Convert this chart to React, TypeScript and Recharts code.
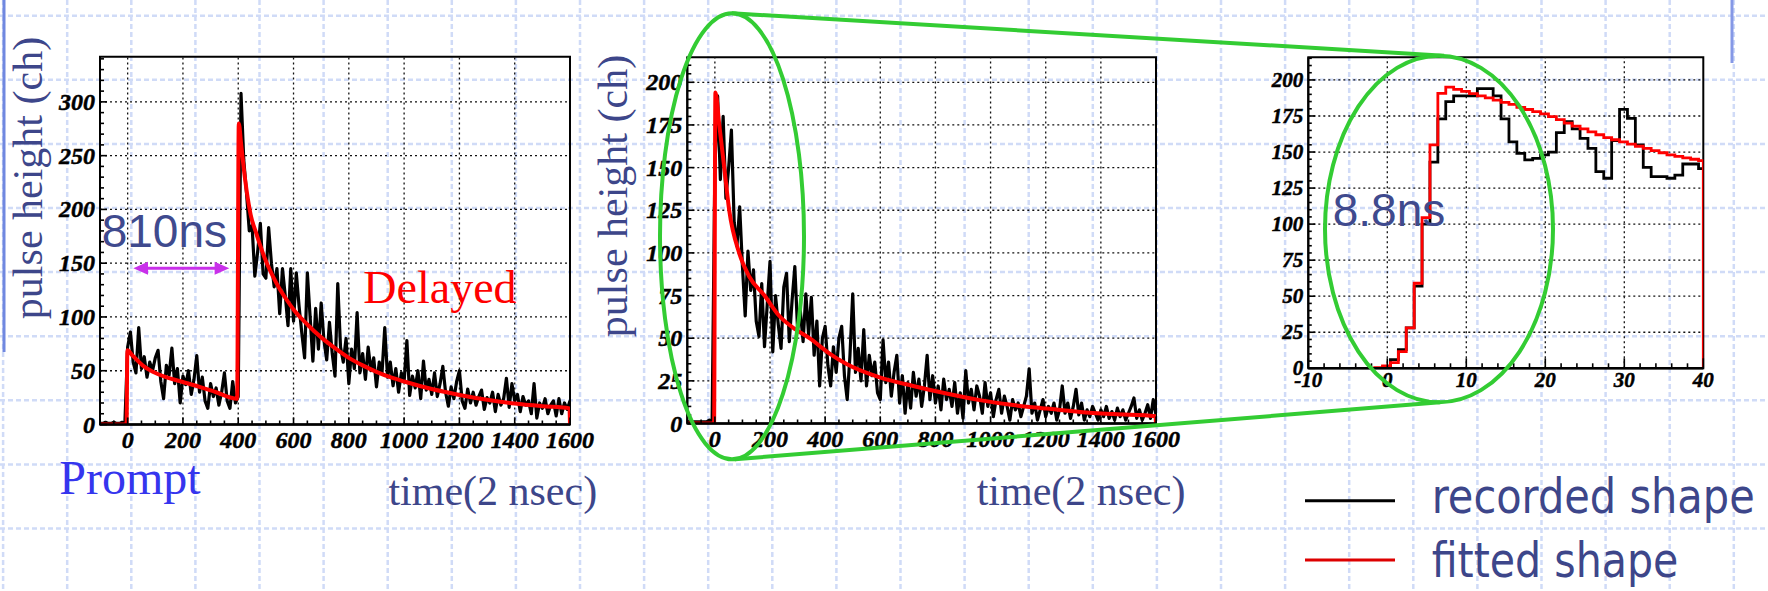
import { Line, LineChart, ReferenceArea, ReferenceLine, XAxis, YAxis } from 'recharts';

// ---------- data ----------

// left panel: prompt + delayed pulse, one value every 10 units starting at -100
const pulseFirstT = -100;
const pulseStep = 10;
const recordedPulse = [
  // -100 .. -10
  1, 1, 2, 1, 1, 2, 1, 1, 2, 1,
  // 0 .. 390
  72, 86, 58, 48, 90, 52, 63, 44, 58, 50,
  62, 69, 40, 24, 55, 46, 71, 38, 52, 20,
  45, 37, 50, 28, 42, 64, 30, 44, 22, 15,
  38, 26, 34, 18, 30, 48, 22, 15, 40, 20,
  // 400 .. 1590
  26, 308, 246, 215, 180, 185, 138, 160, 187, 140,
  136, 183, 150, 128, 145, 103, 145, 120, 92, 145,
  96, 141, 110, 85, 62, 141, 100, 59, 108, 70,
  113, 78, 60, 95, 66, 45, 131, 72, 58, 80,
  38, 70, 52, 104, 48, 66, 42, 72, 50, 62,
  35, 58, 48, 90, 44, 58, 36, 52, 30, 48,
  40, 78, 27, 45, 34, 50, 24, 59, 32, 42,
  28, 48, 26, 38, 54, 30, 17, 35, 24, 40,
  50, 22, 15, 33, 20, 30, 18, 26, 32, 14,
  25, 20, 30, 12, 28, 18, 24, 43, 16, 38,
  22, 28, 12, 26, 18, 22, 10, 38, 6, 20,
  15, 24, 10, 18, 22, 8, 24, 10, 20, 14,
  // 1600
  22,
];
const fittedPulse: [number, number][] = [
  [-100, 0], [-4, 0], [-1, 69], [18, 64], [54, 55], [91, 49], [139, 44], [199, 39.5],
  [260, 35], [320, 30], [396, 24], [402, 280], [410, 262], [420, 238], [430, 218],
  [445, 195], [465, 178], [480, 166], [500, 152], [525, 138], [550, 126], [575, 116],
  [600, 107], [650, 93], [700, 81], [750, 71], [800, 62], [850, 55], [900, 49],
  [950, 44], [1000, 40], [1100, 33], [1200, 27.5], [1300, 23], [1400, 19.5],
  [1500, 17], [1598, 15], [1600, 0],
];

// middle panel: single pulse, same sampling
const recordedSingle = [
  // -100 .. -10
  1, 1, 1, 1, 1, 1, 1, 1, 2, 1,
  // 0 .. 1590
  150, 192, 143, 180, 132, 150, 172, 118, 104, 127,
  92, 63, 101, 78, 90, 60, 51, 82, 45, 70,
  95, 42, 75, 58, 44, 80, 88, 48, 72, 92,
  55, 66, 48, 76, 52, 74, 40, 60, 22, 50,
  57, 34, 22, 45, 30, 50, 57, 28, 14, 40,
  76, 30, 44, 25, 55, 22, 40, 28, 36, 18,
  14, 49, 24, 36, 16, 30, 40, 12, 28, 6,
  24, 9, 30, 16, 26, 10, 22, 40, 14, 28,
  12, 22, 8, 26, 14, 20, 10, 24, 6, 18,
  3, 31, 12, 20, 8, 22, 16, 6, 24, 10,
  18, 4, 14, 20, 6, 16, 10, 2, 14, 8,
  12, 4, 10, 16, 32, 6, 12, 2, 8, 14,
  4, 10, 6, 12, 2, 8, 22, 6, 12, 3,
  10, 20, 5, 12, 2, 8, 4, 10, 6, 2,
  8, 4, 10, 3, 7, 2, 9, 4, 8, 2,
  6, 10, 15, 3, 8, 2, 6, 11, 3, 14,
  // 1600
  5,
];
const fittedSingle: [number, number][] = [
  [-100, 0], [-3, 0], [2, 194], [16, 175], [34, 150], [52, 125], [88, 100], [125, 86],
  [180, 75], [234, 63], [294, 55], [343, 50], [416, 41], [476, 35], [598, 27],
  [719, 22], [840, 17.6], [961, 13.7], [1082, 10.8], [1204, 8.8], [1325, 6.8],
  [1446, 5.5], [1598, 4.3], [1600, 0],
];

// right panel: leading edge, one bin per unit, bin centres -10 .. 40
const zoomFirstBin = -10;
const recordedZoom = [
  0, 0, 0, 0, 0, 0, 0, 0, 0, 0,
  1, 6, 13, 28, 57, 100, 143, 173, 185, 189,
  189, 189, 194, 194, 189, 173, 157, 149, 144.5, 145.6,
  148, 150, 163.5, 171, 166, 159.5, 152.6, 136.4, 131.8, 158,
  179.6, 173.4, 155, 139.4, 133, 133, 131.8, 134, 141.7, 141.7,
  138.5,
];
const fittedZoom = [
  0, 0, 0, 0, 0, 0, 0, 0, 0, 0.5,
  1.6, 4, 11.6, 28, 59, 104.5, 155, 190.7, 195, 193.5,
  192, 190.5, 189, 187.5, 186, 184.5, 183, 181, 179.5, 178,
  176.5, 174.5, 172.5, 170, 168, 166, 164, 162, 160, 158.5,
  157, 155.5, 154, 152.5, 151, 149.5, 148, 147, 146, 145,
  144,
];

// tick labels
const timeLabels = [0, 200, 400, 600, 800, 1000, 1200, 1400, 1600];
const pulseHeightLabels = [0, 50, 100, 150, 200, 250, 300];
const singleHeightLabels = [0, 25, 50, 75, 100, 125, 150, 175, 200];
const zoomTimeLabels = [-10, 0, 10, 20, 30, 40];

// ---------- helpers ----------

type Pt = { x: number; y: number };

const evenly = (vals: number[], t0: number, dt: number): Pt[] =>
  vals.map((y, i) => ({ x: t0 + i * dt, y }));
const pairs = (p: [number, number][]): Pt[] => p.map(([x, y]) => ({ x, y }));

// histogram bins -> step points, bin n covers [n-0.6, n+0.4]
const bins = (vals: number[], first: number, lo: number, hi: number, endY: number | null): Pt[] => {
  const pts = vals.map((y, i) => ({ x: Math.max(lo, first + i - 0.6), y }));
  pts.push({ x: hi, y: endY ?? vals[vals.length - 1] });
  return pts;
};

function range(from: number, to: number, step: number) {
  const out: number[] = [];
  for (let v = from; v <= to + 1e-9; v += step) out.push(Math.round(v * 1000) / 1000);
  return out;
}

const tickFont = (size: number) => ({
  fontFamily: "'Liberation Serif', 'Times New Roman', serif",
  fontWeight: 700,
  fontStyle: 'italic' as const,
  fontSize: size,
  fill: '#000',
  stroke: '#000',
  strokeWidth: 0.5,
});

type TickCfg = { majors: number[]; major: number; minor: number; size: number; gap: number };

function bottomTick(cfg: TickCfg) {
  return (p: any) => {
    const v = p.payload?.value;
    const isMajor = cfg.majors.includes(v);
    return (
      <g>
        <line x1={p.x} x2={p.x} y1={p.y} y2={p.y - (isMajor ? cfg.major : cfg.minor)} stroke="#000" strokeWidth={1.6} />
        {isMajor && (
          <text x={p.x} y={p.y + cfg.gap} textAnchor="middle" style={tickFont(cfg.size)}>
            {v}
          </text>
        )}
      </g>
    );
  };
}

function leftTick(cfg: TickCfg) {
  return (p: any) => {
    const v = p.payload?.value;
    const isMajor = cfg.majors.includes(v);
    return (
      <g>
        <line x1={p.x} x2={p.x + (isMajor ? cfg.major : cfg.minor)} y1={p.y} y2={p.y} stroke="#000" strokeWidth={1.6} />
        {isMajor && (
          <text x={p.x - cfg.gap} y={p.y} textAnchor="end" dominantBaseline="central" style={tickFont(cfg.size)}>
            {v}
          </text>
        )}
      </g>
    );
  };
}

type Series = { key: string; data: Pt[]; color: string; width: number; curve: 'linear' | 'monotone' | 'stepAfter' };

interface HistoProps {
  left: number;
  width: number;
  height: number;
  margin: { top: number; right: number; bottom: number; left: number };
  yWidth: number;
  xHeight: number;
  xDomain: [number, number];
  yDomain: [number, number];
  xTicks: number[];
  yTicks: number[];
  xGrid: number[];
  yGrid: number[];
  xCfg: TickCfg;
  yCfg: TickCfg;
  series: Series[];
}

function Histo(p: HistoProps) {
  return (
    <div style={{ position: 'absolute', left: p.left, top: 0, width: p.width, height: p.height }}>
      <LineChart width={p.width} height={p.height} margin={p.margin}>
        <XAxis
          type="number"
          dataKey="x"
          domain={p.xDomain}
          allowDataOverflow
          ticks={p.xTicks}
          interval={0}
          tickSize={0}
          tickMargin={0}
          tickLine={false}
          axisLine={{ stroke: '#000', strokeWidth: 2.5 }}
          height={p.xHeight}
          tick={bottomTick(p.xCfg)}
        />
        <YAxis
          type="number"
          domain={p.yDomain}
          allowDataOverflow
          ticks={p.yTicks}
          interval={0}
          tickSize={0}
          tickMargin={0}
          tickLine={false}
          axisLine={{ stroke: '#000', strokeWidth: 2 }}
          width={p.yWidth}
          tick={leftTick(p.yCfg)}
        />
        {p.xGrid.map((v) => (
          <ReferenceLine key={`gx${v}`} x={v} stroke="#111" strokeDasharray="2 3" strokeWidth={1.3} />
        ))}
        {p.yGrid.map((v) => (
          <ReferenceLine key={`gy${v}`} y={v} stroke="#111" strokeDasharray="2 3" strokeWidth={1.3} />
        ))}
        {p.series.map((s) => (
          <Line
            key={s.key}
            data={s.data}
            dataKey="y"
            type={s.curve}
            stroke={s.color}
            strokeWidth={s.width}
            strokeLinejoin={s.curve === 'stepAfter' ? 'miter' : 'round'}
            dot={false}
            activeDot={false}
            isAnimationActive={false}
          />
        ))}
        <ReferenceArea
          x1={p.xDomain[0]}
          x2={p.xDomain[1]}
          y1={p.yDomain[0]}
          y2={p.yDomain[1]}
          fill="none"
          stroke="#000"
          strokeWidth={2}
          ifOverflow="visible"
        />
      </LineChart>
    </div>
  );
}

// ---------- slide decoration ----------

const INK = '#3d468a';
const GREEN = '#33cc33';
const slideGridX = Array.from({ length: 28 }, (_, k) => 3.1 + 64.1 * k);
const slideGridY = Array.from({ length: 9 }, (_, k) => 15.7 + 64.1 * k);

export default function App() {
  const timeCfg: TickCfg = { majors: timeLabels, major: 7, minor: 4, size: 24, gap: 23 };
  const timeTicks = range(-100, 1600, 50);

  return (
    <div style={{ position: 'absolute', left: 0, top: 0, width: 1768, height: 591, background: '#fff', overflow: 'hidden' }}>
      <svg width={1768} height={591} style={{ position: 'absolute', left: 0, top: 0 }}>
        {slideGridX.map((x) => (
          <line key={`sx${x}`} x1={x} x2={x} y1={0} y2={591} stroke="#d0dbf7" strokeWidth={2.5} strokeDasharray="5 3" />
        ))}
        {slideGridY.map((y) => (
          <line key={`sy${y}`} x1={0} x2={1768} y1={y} y2={y} stroke="#d0dbf7" strokeWidth={2.5} strokeDasharray="5 3" />
        ))}
        <line x1={4} x2={4} y1={0} y2={352} stroke="#7088e0" strokeWidth={3} />
        <line x1={1732} x2={1732} y1={0} y2={63} stroke="#8598e6" strokeWidth={3} />
      </svg>

      <Histo
        left={0}
        width={600}
        height={470}
        margin={{ top: 56.7, right: 30, bottom: 5.5, left: 0 }}
        yWidth={100}
        xHeight={40}
        xDomain={[-100, 1600]}
        yDomain={[0, 342]}
        xTicks={timeTicks}
        yTicks={range(0, 340, 10)}
        xGrid={timeLabels.slice(0, -1)}
        yGrid={pulseHeightLabels.slice(1)}
        xCfg={timeCfg}
        yCfg={{ majors: pulseHeightLabels, major: 7, minor: 4, size: 24, gap: 5 }}
        series={[
          { key: 'rec', data: evenly(recordedPulse, pulseFirstT, pulseStep), color: '#000', width: 3.2, curve: 'linear' },
          { key: 'fit', data: pairs(fittedPulse), color: '#ff0000', width: 4, curve: 'monotone' },
        ]}
      />

      <Histo
        left={590}
        width={600}
        height={470}
        margin={{ top: 57.3, right: 34, bottom: 6.5, left: 0 }}
        yWidth={97.3}
        xHeight={40}
        xDomain={[-100, 1600]}
        yDomain={[0, 214.65]}
        xTicks={timeTicks}
        yTicks={range(0, 210, 5)}
        xGrid={timeLabels.slice(0, -1)}
        yGrid={singleHeightLabels.slice(1)}
        xCfg={timeCfg}
        yCfg={{ majors: singleHeightLabels, major: 7, minor: 4, size: 24, gap: 5 }}
        series={[
          { key: 'rec', data: evenly(recordedSingle, pulseFirstT, pulseStep), color: '#000', width: 3.2, curve: 'linear' },
          { key: 'fit', data: pairs(fittedSingle), color: '#ff0000', width: 4, curve: 'monotone' },
        ]}
      />

      <Histo
        left={1210}
        width={520}
        height={410}
        margin={{ top: 57.3, right: 26.7, bottom: 6.7, left: 0 }}
        yWidth={98.3}
        xHeight={35}
        xDomain={[-10, 40]}
        yDomain={[0, 215.7]}
        xTicks={range(-10, 40, 2)}
        yTicks={range(0, 215, 5)}
        xGrid={zoomTimeLabels.slice(1, -1)}
        yGrid={singleHeightLabels.slice(1)}
        xCfg={{ majors: zoomTimeLabels, major: 10, minor: 5, size: 21, gap: 19 }}
        yCfg={{ majors: singleHeightLabels, major: 7, minor: 3.5, size: 21, gap: 5 }}
        series={[
          { key: 'rec', data: bins(recordedZoom, zoomFirstBin, -10, 40, null), color: '#000', width: 2.8, curve: 'stepAfter' },
          { key: 'fit', data: bins(fittedZoom, zoomFirstBin, -10, 40, 0), color: '#ff0000', width: 2.8, curve: 'stepAfter' },
        ]}
      />

      <svg width={1768} height={591} style={{ position: 'absolute', left: 0, top: 0, pointerEvents: 'none' }}>
        {/* axis titles */}
        <g fontFamily="'Liberation Serif', 'Times New Roman', serif" fontSize={42} fill={INK}>
          <text transform="translate(42,178) rotate(-90)" textAnchor="middle">pulse height (ch)</text>
          <text transform="translate(627,196) rotate(-90)" textAnchor="middle">pulse height (ch)</text>
          <text x={388.4} y={505}>time(2 nsec)</text>
          <text x={976.7} y={505}>time(2 nsec)</text>
        </g>
        <text x={59.3} y={494} fontFamily="'Liberation Serif', serif" fontSize={48} fill="#3535ee">Prompt</text>
        <text x={363.3} y={302.7} fontFamily="'Liberation Serif', serif" fontSize={46} fill="#ff0000">Delayed</text>
        <text x={101.7} y={246.7} fontFamily="'Liberation Sans', Arial, sans-serif" fontSize={46} fill="#3f4a8e">810ns</text>
        <text x={1332.7} y={225.7} fontFamily="'Liberation Sans', Arial, sans-serif" fontSize={46} fill="#3f4a8e">8.8ns</text>

        {/* 810ns arrow */}
        <g fill="#c930ea" stroke="none">
          <line x1={145} x2={218} y1={268.3} y2={268.3} stroke="#c930ea" strokeWidth={3} />
          <polygon points="133.3,268.3 148,261.8 148,274.8" />
          <polygon points="229.3,268.3 214.6,261.8 214.6,274.8" />
        </g>

        {/* zoom marker */}
        <g fill="none" stroke={GREEN} strokeWidth={4}>
          <ellipse cx={732} cy={236.3} rx={72} ry={223} />
          <ellipse cx={1439} cy={229} rx={114} ry={173.3} />
          <line x1={732} y1={13.3} x2={1444} y2={55.7} />
          <line x1={735} y1={459.3} x2={1440} y2={402.3} />
        </g>

        {/* legend */}
        <line x1={1305} x2={1395} y1={500.7} y2={500.7} stroke="#000" strokeWidth={3} />
        <line x1={1305} x2={1395} y1={560} y2={560} stroke="#dd0000" strokeWidth={3} />
        <g fontFamily="'DejaVu Sans', Verdana, sans-serif" fontSize={48} fill={INK}>
          <text x={1431.7} y={513.3} textLength={323} lengthAdjust="spacingAndGlyphs">recorded shape</text>
          <text x={1431.7} y={577.3} textLength={246.6} lengthAdjust="spacingAndGlyphs">fitted shape</text>
        </g>
      </svg>
    </div>
  );
}
